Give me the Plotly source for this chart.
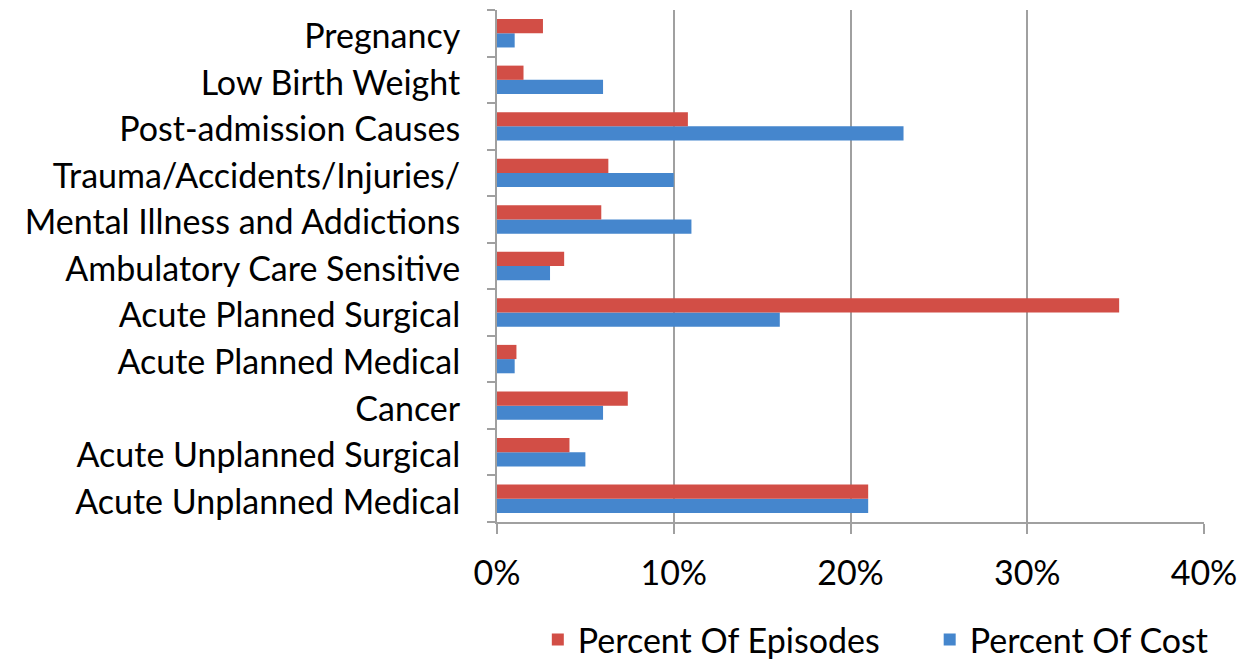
import plotly.graph_objects as go

categories = ["Acute Unplanned Medical", "Acute Unplanned Surgical", "Cancer",
              "Acute Planned Medical", "Acute Planned Surgical", "Ambulatory Care Sensitive",
              "Mental Illness and Addictions", "Trauma/Accidents/Injuries/",
              "Post-admission Causes", "Low Birth Weight", "Pregnancy"]
episodes = [0.210, 0.041, 0.074, 0.011, 0.352, 0.038, 0.059, 0.063, 0.108, 0.015, 0.026]
cost = [0.210, 0.050, 0.060, 0.010, 0.160, 0.030, 0.110, 0.100, 0.230, 0.060, 0.010]
x_ticks = [0, 0.1, 0.2, 0.3, 0.4]
x_labels = ["0%", "10%", "20%", "30%", "40%"]

font_family = "Lato, Carlito, Calibri, sans-serif"

fig = go.Figure()
fig.add_trace(go.Bar(y=categories, x=cost, orientation="h", name="Percent Of Cost",
                     marker=dict(color="#4586CD", line=dict(width=0)), legend="legend2"))
fig.add_trace(go.Bar(y=categories, x=episodes, orientation="h", name="Percent Of Episodes",
                     marker=dict(color="#D24E46", line=dict(width=0)), legend="legend"))

legend_common = dict(orientation="h", xref="container", yref="container",
                     xanchor="left", y=0.0424, yanchor="middle",
                     font=dict(size=34), itemwidth=30, bgcolor="rgba(0,0,0,0)")

fig.update_layout(
    width=1254, height=660,
    margin=dict(l=489, r=58, t=2, b=146),
    paper_bgcolor="white", plot_bgcolor="white",
    barmode="group", bargap=0.39, bargroupgap=0,
    font=dict(family=font_family, size=34, color="black"),
    legend=dict(x=0.4225, **legend_common),
    legend2=dict(x=0.735, **legend_common),
    showlegend=True,
)
fig.update_xaxes(range=[0, 0.4], tickvals=x_ticks, ticktext=x_labels,
                 showgrid=True, gridcolor="#A0A0A0", gridwidth=2,
                 showline=True, linecolor="#A0A0A0", linewidth=2,
                 ticks="outside", ticklen=10, tickcolor="#A0A0A0", tickwidth=2,
                 ticklabelstandoff=10, zeroline=False, automargin=False)
fig.update_yaxes(categoryorder="array", categoryarray=categories,
                 showline=True, linecolor="#A0A0A0", linewidth=2,
                 ticks="outside", ticklen=8, tickcolor="#A0A0A0", tickwidth=2,
                 tickson="boundaries", ticklabelstandoff=28, ticklabelshift=3,
                 showgrid=False, automargin=False)

fig.write_html("out.html")
